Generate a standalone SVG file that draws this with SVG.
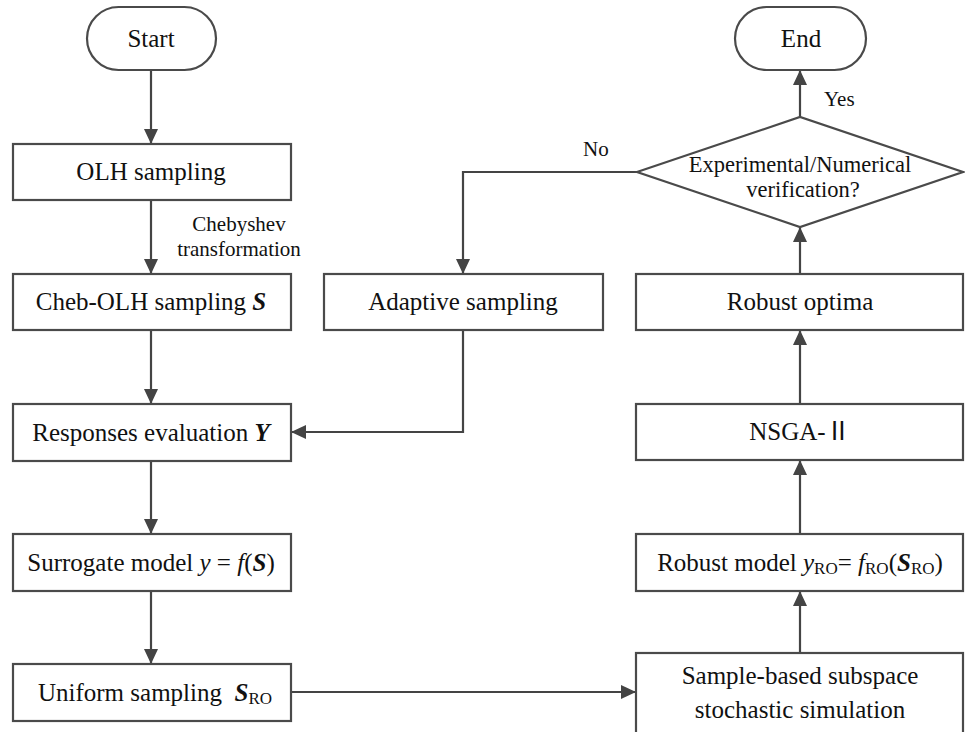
<svg xmlns="http://www.w3.org/2000/svg" width="965" height="732" viewBox="0 0 965 732">
<style>
.box{fill:#fff;stroke:#4a4a4a;stroke-width:2.2}
.t{font-family:"Liberation Serif","Noto Sans CJK SC",serif;font-size:25px;fill:#111;text-anchor:middle}
.d{font-family:"Liberation Serif",serif;font-size:22.5px;fill:#111;text-anchor:middle}
.l{font-family:"Liberation Serif",serif;font-size:21px;fill:#111}
.c{fill:none;stroke:#444;stroke-width:2.2}
.i{font-style:italic}
.bi{font-style:italic;font-weight:bold}
.s{font-size:17px}
</style>
<defs>
<marker id="ah" markerUnits="userSpaceOnUse" markerWidth="15" markerHeight="14" refX="15" refY="7" orient="auto">
<path d="M0,0 L15,7 L0,14 z" fill="#444"/>
</marker>
</defs>
<rect width="965" height="732" fill="#fff"/>
<g id="connectors">
<line class="c" x1="151" y1="70" x2="151" y2="144" marker-end="url(#ah)"/>
<line class="c" x1="151" y1="200" x2="151" y2="274" marker-end="url(#ah)"/>
<line class="c" x1="151" y1="330" x2="151" y2="404" marker-end="url(#ah)"/>
<line class="c" x1="151" y1="461" x2="151" y2="534" marker-end="url(#ah)"/>
<line class="c" x1="151" y1="591" x2="151" y2="664" marker-end="url(#ah)"/>
<polyline class="c" points="463,330 463,432 291,432" marker-end="url(#ah)"/>
<polyline class="c" points="637,172 463,172 463,274" marker-end="url(#ah)"/>
<line class="c" x1="291" y1="692" x2="636" y2="692" marker-end="url(#ah)"/>
<line class="c" x1="800" y1="653" x2="800" y2="591" marker-end="url(#ah)"/>
<line class="c" x1="800" y1="534" x2="800" y2="460" marker-end="url(#ah)"/>
<line class="c" x1="800" y1="404" x2="800" y2="330" marker-end="url(#ah)"/>
<line class="c" x1="800" y1="274" x2="800" y2="227" marker-end="url(#ah)"/>
<line class="c" x1="800" y1="117" x2="800" y2="70" marker-end="url(#ah)"/>
<text class="l" x="239" y="231" text-anchor="middle">Chebyshev</text>
<text class="l" x="239" y="256" text-anchor="middle">transformation</text>
<text class="l" x="583" y="156">No</text>
<text class="l" x="824" y="106">Yes</text>
</g>
<g id="start">
<rect class="box" x="87" y="7" width="129" height="63" rx="31.5"/>
<text class="t" x="151" y="47">Start</text>
</g>
<g id="olh">
<rect class="box" x="13" y="144" width="278" height="56"/>
<text class="t" x="151" y="180">OLH sampling</text>
</g>
<g id="cheb">
<rect class="box" x="13" y="274" width="278" height="56"/>
<text class="t" x="151" y="310">Cheb-OLH sampling <tspan class="bi">S</tspan></text>
</g>
<g id="responses">
<rect class="box" x="13" y="404" width="278" height="57"/>
<text class="t" x="151" y="441">Responses evaluation <tspan class="bi">Y</tspan></text>
</g>
<g id="surrogate">
<rect class="box" x="13" y="534" width="278" height="57"/>
<text class="t" x="151" y="571">Surrogate model <tspan class="i">y</tspan> = <tspan class="i">f</tspan>(<tspan class="bi">S</tspan>)</text>
</g>
<g id="uniform">
<rect class="box" x="13" y="664" width="278" height="57"/>
<text class="t" x="155" y="701">Uniform sampling&#160; <tspan class="bi">S</tspan><tspan class="s" dy="3">RO</tspan></text>
</g>
<g id="adaptive">
<rect class="box" x="324" y="274" width="279" height="56"/>
<text class="t" x="463" y="310">Adaptive sampling</text>
</g>
<g id="end">
<rect class="box" x="735" y="7" width="131" height="63" rx="31.5"/>
<text class="t" x="801" y="47">End</text>
</g>
<g id="decision">
<polygon class="box" points="637,172 800,117 963,172 800,227"/>
<text class="d" x="800" y="172">Experimental/Numerical</text>
<text class="d" x="803" y="197">verification?</text>
</g>
<g id="optima">
<rect class="box" x="636" y="274" width="327" height="56"/>
<text class="t" x="800" y="310">Robust optima</text>
</g>
<g id="nsga">
<rect class="box" x="636" y="404" width="327" height="56"/>
<text class="t" x="800" y="440">NSGA-Ⅱ</text>
</g>
<g id="robust">
<rect class="box" x="636" y="534" width="327" height="57"/>
<text class="t" x="800" y="571">Robust model <tspan class="i">y</tspan><tspan class="s" dy="3">RO</tspan><tspan dy="-3">= </tspan><tspan class="i">f</tspan><tspan class="s" dy="3">RO</tspan><tspan dy="-3">(</tspan><tspan class="bi">S</tspan><tspan class="s" dy="3">RO</tspan><tspan dy="-3">)</tspan></text>
</g>
<g id="sample">
<rect class="box" x="636" y="653" width="327" height="82"/>
<text class="t" x="800" y="684">Sample-based subspace</text>
<text class="t" x="800" y="718">stochastic simulation</text>
</g>
</svg>
